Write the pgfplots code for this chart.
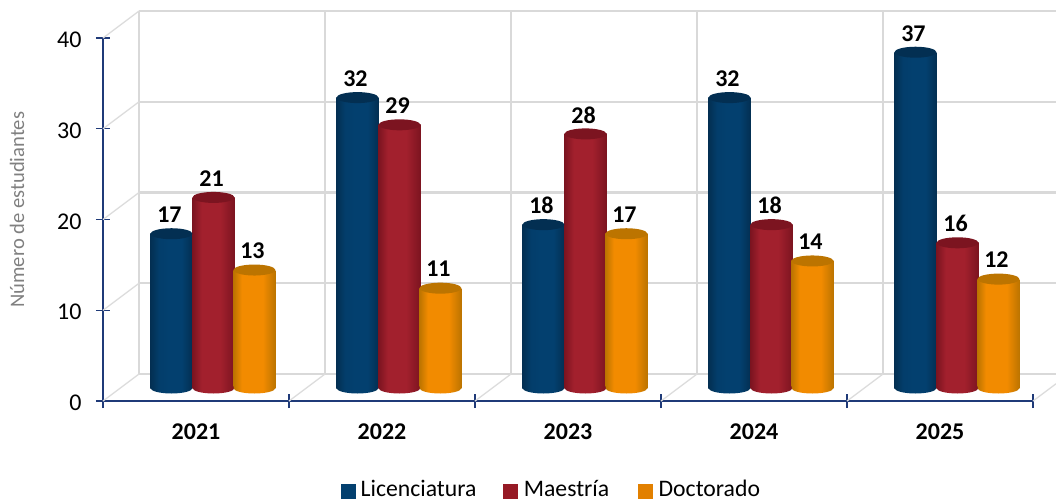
\documentclass[border=0pt]{standalone}
\usepackage{pgfplots}
\usepackage{pgfplotstable}
\usepackage{fontspec}
\setmainfont{Carlito}
\pgfplotsset{compat=1.18,/pgf/number format/assume math mode=true}
\definecolor{navyax}{HTML}{1F3A78}
\definecolor{gridc}{HTML}{D9D9D9}
\definecolor{diagc}{HTML}{DCDCDC}
\definecolor{legB}{HTML}{03406F}
\definecolor{legR}{HTML}{961A25}
\definecolor{legO}{HTML}{E28000}
\definecolor{midR}{HTML}{A2202D}
\definecolor{midO}{HTML}{F28B00}
\definecolor{capB}{HTML}{032F52}
\definecolor{capR}{HTML}{7C1420}
\definecolor{capO}{HTML}{BC7400}
\pgfdeclarehorizontalshading{cylB}{100bp}{
 color(0bp)=(capB); color(25bp)=(capB); color(35bp)=(legB!85!capB); color(47bp)=(legB); color(62bp)=(legB); color(75bp)=(capB); color(100bp)=(capB)}
\pgfdeclarehorizontalshading{cylR}{100bp}{
 color(0bp)=(capR); color(25bp)=(capR); color(36bp)=(midR); color(58bp)=(midR); color(75bp)=(capR); color(100bp)=(capR)}
\pgfdeclarehorizontalshading{cylO}{100bp}{
 color(0bp)=(capO); color(25bp)=(capO); color(35bp)=(midO); color(60bp)=(midO); color(75bp)=(capO); color(100bp)=(capO)}
\def\capshape{\pgfpathellipse{\pgfpointorigin}{\pgfpoint{21pt}{0pt}}{\pgfpoint{0pt}{5.5pt}}}
\pgfdeclareplotmark{capB}{\capshape\pgfsetfillcolor{capB}\pgfusepathqfill}
\pgfdeclareplotmark{capR}{\capshape\pgfsetfillcolor{capR}\pgfusepathqfill}
\pgfdeclareplotmark{capO}{\capshape\pgfsetfillcolor{capO}\pgfusepathqfill}
\pgfdeclareplotmark{baseB}{\capshape\pgfshadepath{cylB}{0}\pgfusepath{discard}}
\pgfdeclareplotmark{baseR}{\capshape\pgfshadepath{cylR}{0}\pgfusepath{discard}}
\pgfdeclareplotmark{baseO}{\capshape\pgfshadepath{cylO}{0}\pgfusepath{discard}}
\pgfplotstableread{
xb yb xm ym xd yd zero
-0.226 17 0 21 0.22 13 0
0.774 32 1 29 1.22 11 0
1.774 18 2 28 2.22 17 0
2.774 32 3 18 3.22 14 0
3.774 37 4 16 4.22 12 0
}\datatab
\pgfplotsset{
  cyl/.style={ybar,bar width=42pt,bar shift=0pt,draw=none,shade,shading=#1},
  onerow/.style 2 args={skip coords between index={0}{#1},skip coords between index={#2}{5}}
}
\newcommand\cylrows[3]{%
\addplot[cyl=#1,onerow={0}{1}] table[x=#2,y=#3]{\datatab};
\addplot[cyl=#1,onerow={1}{2}] table[x=#2,y=#3]{\datatab};
\addplot[cyl=#1,onerow={2}{3}] table[x=#2,y=#3]{\datatab};
\addplot[cyl=#1,onerow={3}{4}] table[x=#2,y=#3]{\datatab};
\addplot[cyl=#1,onerow={4}{5}] table[x=#2,y=#3]{\datatab};
}
\begin{document}
\begin{tikzpicture}[x=1pt,y=1pt]
\useasboundingbox (0,0) rectangle (1056,499);
% back wall
\begin{axis}[at={(139pt,125pt)},anchor=south west,scale only axis,width=917pt,height=363pt,
  xmin=-0.5,xmax=4.43,ymin=0,ymax=40,clip=false,
  xtick={-0.5,0.5,1.5,2.5,3.5},ytick={0,10,20,30,40},
  xticklabels={},yticklabels={},major tick length=0pt,
  axis line style={draw=none},grid=major,
  grid style={gridc,line width=2.2pt}]
\addplot[draw=none,forget plot] coordinates {(0,0)};
\end{axis}
% front axis
\begin{axis}[at={(103pt,98pt)},anchor=south west,scale only axis,width=930pt,height=363pt,
  xmin=-0.5,xmax=4.5,ymin=0,ymax=40,clip=false,
  axis lines*=left,axis line style={navyax,line width=1.6pt,-},
  tick style={navyax,line width=1.4pt},tick align=center,major tick length=14pt,
  xtick={-0.5,0.5,1.5,2.5,3.5,4.5},xticklabels={},
  extra x ticks={0,1,2,3,4},
  extra x tick labels={\textbf{2021},\textbf{2022},\textbf{2023},\textbf{2024},\textbf{2025}},
  extra x tick style={major tick length=0pt,tick style={draw=none},
     xticklabel style={yshift=-19pt,font=\fontsize{24}{26}\selectfont}},
  ytick={0,10,20,30,40},
  yticklabel style={font=\fontsize{24}{26}\selectfont,xshift=-11pt,yshift=-2pt},
  ylabel={Número de estudiantes},
  every axis y label/.style={at={(axis description cs:-0.0925,0.527)},rotate=90,anchor=center,
     font=\fontsize{20.6}{22}\selectfont,text=black!50},
  legend style={at={(axis description cs:0.256,-0.243)},anchor=west,draw=none,fill=none,
     legend columns=3,font=\fontsize{23.7}{25}\selectfont,inner sep=0pt,
     /tikz/every even column/.append style={column sep=26pt},
     nodes={inner sep=0pt,outer sep=0pt}},
  legend cell align=left]
\addlegendimage{legend image code/.code={\path (0pt,0pt);\fill[legB] (0pt,-9pt) rectangle (14pt,5pt);\path (19pt,0pt);}}
\addlegendentry{Licenciatura}
\addlegendimage{legend image code/.code={\path (0pt,0pt);\fill[legR] (1pt,-9pt) rectangle (15pt,5pt);\path (21pt,0pt);}}
\addlegendentry{Maestría}
\addlegendimage{legend image code/.code={\path (0pt,0pt);\fill[legO] (3pt,-9pt) rectangle (17pt,5pt);\path (23pt,0pt);}}
\addlegendentry{Doctorado}
\pgfplotsset{diag/.style={diagc,line width=1.3pt,no marks,forget plot}}
\addplot[diag] coordinates {(-0.5,0)(-0.3065,2.975)};
\addplot[diag] coordinates {(0.5,0)(0.6935,2.975)};
\addplot[diag] coordinates {(1.5,0)(1.6935,2.975)};
\addplot[diag] coordinates {(2.5,0)(2.6935,2.975)};
\addplot[diag] coordinates {(3.5,0)(3.6935,2.975)};
\addplot[diag] coordinates {(4.5,0)(4.6237,1.9)};
\addplot[diag] coordinates {(-0.5,10)(-0.3065,12.975)};
\addplot[diag] coordinates {(-0.5,20)(-0.3065,22.975)};
\addplot[diag] coordinates {(-0.5,30)(-0.3065,32.975)};
\addplot[diag] coordinates {(-0.5,40)(-0.3065,42.975)};
\end{axis}
% cylinders
\begin{axis}[at={(120.5pt,111pt)},anchor=south west,scale only axis,width=930pt,height=363pt,
  xmin=-0.5,xmax=4.5,ymin=0,ymax=40,clip=false,hide axis,
  every node near coord/.style={anchor=center,yshift=19pt,xshift=-2pt,text=black,
     font=\fontsize{24}{26}\selectfont\bfseries}]
\addplot[only marks,mark=baseB] table[x=xb,y=zero]{\datatab};
\cylrows{cylB}{xb}{yb}
\addplot[only marks,mark=capB,nodes near coords] table[x=xb,y=yb]{\datatab};
\addplot[only marks,mark=baseR] table[x=xm,y=zero]{\datatab};
\cylrows{cylR}{xm}{ym}
\addplot[only marks,mark=capR,nodes near coords] table[x=xm,y=ym]{\datatab};
\addplot[only marks,mark=baseO] table[x=xd,y=zero]{\datatab};
\cylrows{cylO}{xd}{yd}
\addplot[only marks,mark=capO,nodes near coords] table[x=xd,y=yd]{\datatab};
\end{axis}
\end{tikzpicture}
\end{document}
